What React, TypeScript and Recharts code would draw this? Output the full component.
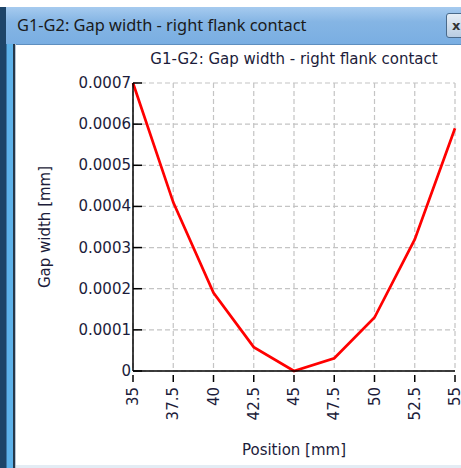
import { CartesianGrid, Line, LineChart, XAxis, YAxis } from "recharts";

const positions = [35, 37.5, 40, 42.5, 45, 47.5, 50, 52.5, 55];
const gapWidth = [0.0007, 0.00041, 0.00019, 0.000058, 0, 0.000031, 0.00013, 0.00032, 0.00059];
const xTicks = [35, 37.5, 40, 42.5, 45, 47.5, 50, 52.5, 55];
const yTicks = [0, 0.0001, 0.0002, 0.0003, 0.0004, 0.0005, 0.0006, 0.0007];
const yTickLabels = ["0", "0.0001", "0.0002", "0.0003", "0.0004", "0.0005", "0.0006", "0.0007"];

const title = "G1-G2: Gap width - right flank contact";

const data = positions.map((p, i) => ({ pos: p, gap: gapWidth[i] }));

const FONT = "'DejaVu Sans', sans-serif";
const TEXT = "#1c1c3a";

function YTick(props: any) {
  const { x, y, payload, index } = props;
  return (
    <g>
      <line x1={x + 8} x2={x + 17} y1={y} y2={y} stroke="#000" strokeWidth={1.5} />
      <text x={x + 6} y={y} dy={5} textAnchor="end" fontFamily={FONT} fontSize={15} fill={TEXT}>
        {yTickLabels[index] ?? payload.value}
      </text>
    </g>
  );
}

function XTick(props: any) {
  const { x, y, payload } = props;
  return (
    <g>
      <line x1={x} x2={x} y1={y - 4} y2={y + 3} stroke="#000" strokeWidth={1.5} />
      <text
        x={0}
        y={0}
        dy={5}
        transform={`translate(${x},${y + 8}) rotate(-90)`}
        textAnchor="end"
        fontFamily={FONT}
        fontSize={15}
        fill={TEXT}
      >
        {String(payload.value)}
      </text>
    </g>
  );
}

export default function App() {
  return (
    <div style={{ position: "fixed", left: 0, top: 0, width: 461, height: 468, background: "#fff", overflow: "hidden" }}>
      {/* window title bar */}
      <div
        style={{
          position: "absolute",
          left: 0,
          top: 7,
          width: 461,
          height: 37,
          background: "linear-gradient(#a6cbef, #85b5e4 40%, #7aaee2)",
          borderBottom: "1px solid #5f8fbf",
        }}
      />
      <div
        style={{
          position: "absolute",
          left: 17,
          top: 13,
          fontFamily: "'Noto Sans', sans-serif",
          fontSize: 16.4,
          color: "#1a1a1a",
          whiteSpace: "nowrap",
        }}
      >
        {title}
      </div>
      <div
        style={{
          position: "absolute",
          left: 446,
          top: 13,
          width: 22,
          height: 25,
          border: "1px solid #4a6a8a",
          borderRadius: 3,
          background: "linear-gradient(#e6eef6, #b9cde2)",
          fontFamily: FONT,
          fontSize: 13,
          fontWeight: "bold",
          color: "#333",
          paddingLeft: 5,
          lineHeight: "24px",
          boxSizing: "border-box",
        }}
      >
        x
      </div>
      {/* left frame */}
      <div style={{ position: "absolute", left: 0, top: 7, width: 6, height: 461, background: "#1d4468" }} />
      <div style={{ position: "absolute", left: 6, top: 44, width: 1, height: 424, background: "#3d78a8" }} />
      <div style={{ position: "absolute", left: 7, top: 44, width: 6, height: 424, background: "#5db2ea" }} />
      <div style={{ position: "absolute", left: 13, top: 44, width: 2, height: 424, background: "#26384a" }} />
      <div style={{ position: "absolute", left: 15, top: 44, width: 1, height: 424, background: "#b8c4d0" }} />
      <div style={{ position: "absolute", left: 16, top: 465, width: 445, height: 3, background: "#e3ecf4" }} />

      {/* chart title */}
      <div
        style={{
          position: "absolute",
          left: 133,
          width: 322,
          top: 50,
          textAlign: "center",
          fontFamily: FONT,
          fontSize: 15,
          color: TEXT,
          whiteSpace: "nowrap",
        }}
      >
        {title}
      </div>

      <div style={{ position: "absolute", left: 0, top: 0 }}>
        <LineChart width={461} height={468} data={data} margin={{ top: 83, right: 6, bottom: 17, left: 73 }}>
          <CartesianGrid stroke="#c4c4c4" strokeDasharray="5 3" strokeWidth={1.2} />
          <XAxis
            dataKey="pos"
            type="number"
            domain={[35, 55]}
            ticks={xTicks}
            interval={0}
            height={80}
            axisLine={{ stroke: "#000", strokeWidth: 1.5 }}
            tickLine={false}
            tick={<XTick />}
            label={{
              value: "Position [mm]",
              position: "insideBottom",
              offset: -4,
              fontFamily: FONT,
              fontSize: 15,
              fill: TEXT,
            }}
          />
          <YAxis
            type="number"
            domain={[0, 0.0007]}
            ticks={yTicks}
            interval={0}
            width={60}
            axisLine={{ stroke: "#000", strokeWidth: 1.5 }}
            tickLine={false}
            tick={<YTick />}
            label={{
              value: "Gap width [mm]",
              angle: -90,
              position: "insideLeft",
              offset: -28,
              style: { textAnchor: "middle" },
              fontFamily: FONT,
              fontSize: 15,
              fill: TEXT,
            }}
          />
          <Line
            type="linear"
            dataKey="gap"
            stroke="#ff0000"
            strokeWidth={2.7}
            dot={false}
            isAnimationActive={false}
          />
        </LineChart>
      </div>
    </div>
  );
}
